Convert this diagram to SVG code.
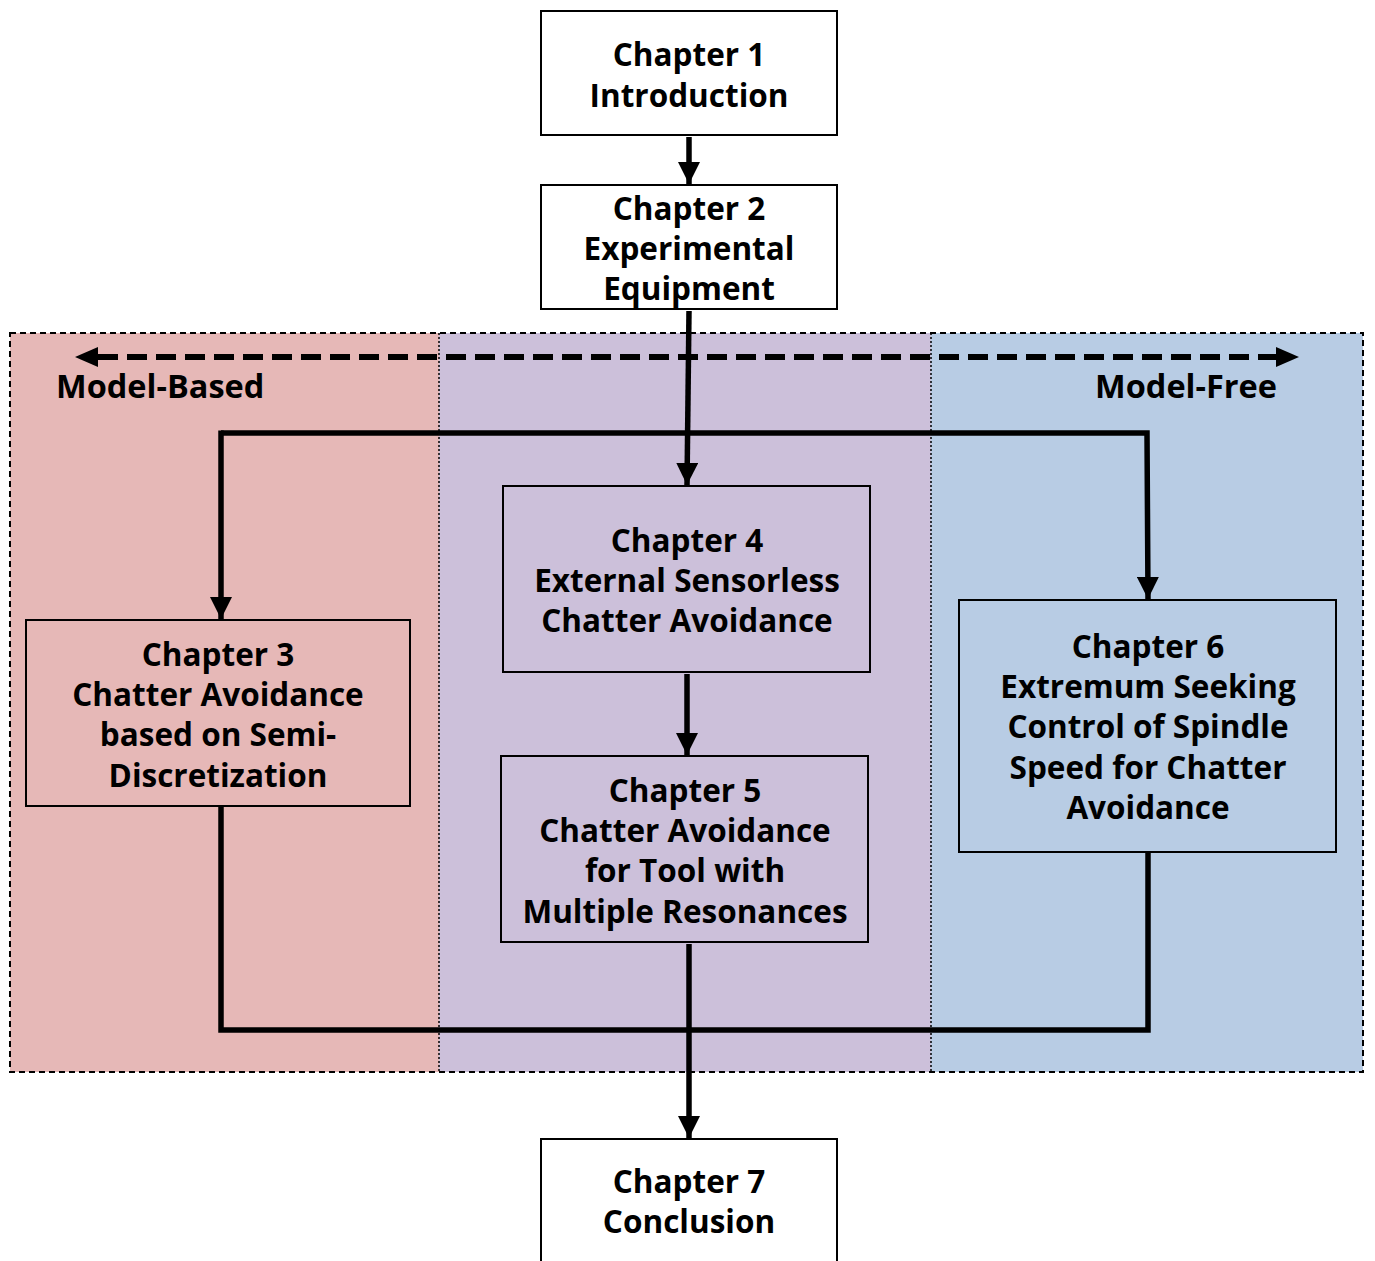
<svg xmlns="http://www.w3.org/2000/svg" width="1375" height="1261" viewBox="0 0 1375 1261">
<style>
.box{stroke:#000;stroke-width:2}
.t{font-family:"Open Sans","Noto Sans","DejaVu Sans",sans-serif;font-weight:bold;font-size:31.5px;fill:#000;text-anchor:middle}
.c{fill:none;stroke:#000;stroke-width:5.5;stroke-linecap:butt}
.div{stroke:#000;stroke-width:1.5;stroke-dasharray:2 2;fill:none}
</style>
<defs>
<marker id="ah" viewBox="0 0 10 10" refX="10" refY="5" markerWidth="4" markerHeight="4" orient="auto" markerUnits="strokeWidth">
<path d="M0,0 L10,5 L0,10 z" fill="#000"/>
</marker>
</defs>
<g id="regions">
<rect x="10" y="333" width="429" height="739" fill="#E6B8B7"/>
<rect x="439" y="333" width="492" height="739" fill="#CCC0DA"/>
<rect x="931" y="333" width="432" height="739" fill="#B8CCE4"/>
<line class="div" x1="439" y1="333" x2="439" y2="1072"/>
<line class="div" x1="931" y1="333" x2="931" y2="1072"/>
<rect x="10" y="333" width="1353" height="739" fill="none" stroke="#000" stroke-width="2" stroke-dasharray="6 4"/>
</g>
<g id="axis">
<line x1="98" y1="357" x2="1276" y2="357" stroke="#000" stroke-width="6" stroke-dasharray="20 9"/>
<path d="M75,357 L98,347 L98,367 z" fill="#000"/>
<path d="M1299,357 L1276,347 L1276,367 z" fill="#000"/>
<text class="t" x="56" y="398" style="text-anchor:start;font-size:32.5px">Model-Based</text>
<text class="t" x="1277" y="398" style="text-anchor:end;font-size:32.5px">Model-Free</text>
</g>
<g id="connectors">
<line class="c" x1="689" y1="137" x2="689" y2="184" marker-end="url(#ah)"/>
<line class="c" x1="689" y1="311" x2="687" y2="485" marker-end="url(#ah)"/>
<polyline class="c" points="221,433 1147,433 1148,599" marker-end="url(#ah)"/>
<line class="c" x1="221" y1="430.5" x2="221" y2="619" marker-end="url(#ah)"/>
<line class="c" x1="687" y1="674" x2="687" y2="755" marker-end="url(#ah)"/>
<polyline class="c" points="221,808 221,1030 1148,1030 1148,854" style="stroke-linejoin:miter;stroke-linecap:square"/>
<line class="c" x1="689" y1="944" x2="689" y2="1138" marker-end="url(#ah)"/>
</g>
<g id="ch1">
<rect class="box" x="541" y="11" width="296" height="124" fill="#fff"/>
<text class="t" x="689" y="66">Chapter 1</text>
<text class="t" x="689" y="107">Introduction</text>
</g>
<g id="ch2">
<rect class="box" x="541" y="185" width="296" height="124" fill="#fff"/>
<text class="t" x="689" y="220">Chapter 2</text>
<text class="t" x="689" y="260">Experimental</text>
<text class="t" x="689" y="300">Equipment</text>
</g>
<g id="ch3">
<rect class="box" x="26" y="620" width="384" height="186" fill="#E6B8B7"/>
<text class="t" x="218" y="666">Chapter 3</text>
<text class="t" x="218" y="706">Chatter Avoidance</text>
<text class="t" x="218" y="746">based on Semi-</text>
<text class="t" x="218" y="787">Discretization</text>
</g>
<g id="ch4">
<rect class="box" x="503" y="486" width="367" height="186" fill="#CCC0DA"/>
<text class="t" x="687" y="552">Chapter 4</text>
<text class="t" x="687" y="592">External Sensorless</text>
<text class="t" x="687" y="632">Chatter Avoidance</text>
</g>
<g id="ch5">
<rect class="box" x="501" y="756" width="367" height="186" fill="#CCC0DA"/>
<text class="t" x="685" y="802">Chapter 5</text>
<text class="t" x="685" y="842">Chatter Avoidance</text>
<text class="t" x="685" y="882">for Tool with</text>
<text class="t" x="685" y="923">Multiple Resonances</text>
</g>
<g id="ch6">
<rect class="box" x="959" y="600" width="377" height="252" fill="#B8CCE4"/>
<text class="t" x="1148" y="658">Chapter 6</text>
<text class="t" x="1148" y="698">Extremum Seeking</text>
<text class="t" x="1148" y="738">Control of Spindle</text>
<text class="t" x="1148" y="779">Speed for Chatter</text>
<text class="t" x="1148" y="819">Avoidance</text>
</g>
<g id="ch7">
<rect class="box" x="541" y="1139" width="296" height="130" fill="#fff"/>
<text class="t" x="689" y="1193">Chapter 7</text>
<text class="t" x="689" y="1233">Conclusion</text>
</g>
</svg>
